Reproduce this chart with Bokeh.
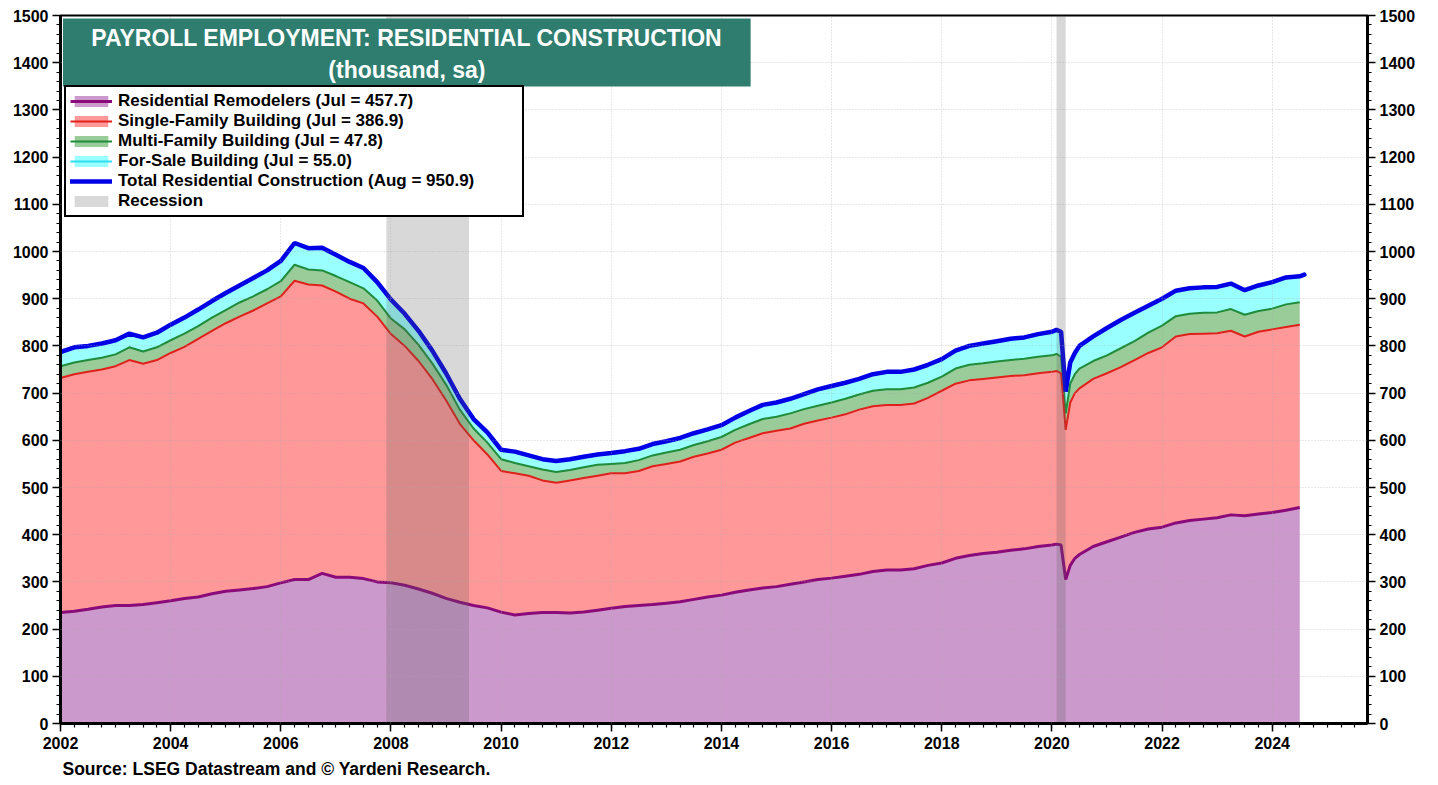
import numpy as np
from bokeh.plotting import figure
from bokeh.models import (Legend, LegendItem, LinearAxis, FixedTicker, BoxAnnotation,
                          Label, Title, Range1d, ColumnDataSource)
from bokeh.embed import file_html
from bokeh.resources import INLINE

# ---------------- data (thousand, sa) ----------------
dates = [
    "2002-01", "2002-04", "2002-07", "2002-10",
    "2003-01", "2003-04", "2003-07", "2003-10",
    "2004-01", "2004-04", "2004-07", "2004-10",
    "2005-01", "2005-04", "2005-07", "2005-10",
    "2006-01", "2006-04", "2006-07", "2006-10",
    "2007-01", "2007-04", "2007-07", "2007-10",
    "2008-01", "2008-04", "2008-07", "2008-10",
    "2009-01", "2009-04", "2009-07", "2009-10",
    "2010-01", "2010-04", "2010-07", "2010-10",
    "2011-01", "2011-04", "2011-07", "2011-10",
    "2012-01", "2012-04", "2012-07", "2012-10",
    "2013-01", "2013-04", "2013-07", "2013-10",
    "2014-01", "2014-04", "2014-07", "2014-10",
    "2015-01", "2015-04", "2015-07", "2015-10",
    "2016-01", "2016-04", "2016-07", "2016-10",
    "2017-01", "2017-04", "2017-07", "2017-10",
    "2018-01", "2018-04", "2018-07", "2018-10",
    "2019-01", "2019-04", "2019-07", "2019-10",
    "2020-01", "2020-02", "2020-03", "2020-04", "2020-05", "2020-06", "2020-07", "2020-10",
    "2021-01", "2021-04", "2021-07", "2021-10",
    "2022-01", "2022-04", "2022-07", "2022-10",
    "2023-01", "2023-04", "2023-07", "2023-10",
    "2024-01", "2024-04", "2024-07",
]

remodelers = [
    235, 238, 242, 247,
    250, 250, 252, 256,
    260, 265, 268, 275,
    280, 283, 286, 290,
    298, 305, 305, 318,
    310, 310, 307, 300,
    298, 293, 285, 276,
    265, 257, 250, 245,
    236, 230, 233, 235,
    235, 234, 236, 240,
    244, 248, 250, 252,
    255, 258, 263, 268,
    272, 278, 283, 287,
    290, 295, 300, 305,
    308, 312, 316, 322,
    325, 325, 328, 335,
    340, 350, 356, 360,
    363, 367, 370, 375,
    378, 380, 378, 305, 335, 350, 358, 375,
    385, 395, 405, 412,
    416, 425, 430, 433,
    436, 442, 440, 444,
    447, 452, 457.7,
]

single_family = [
    497, 502, 503, 503,
    507, 520, 510, 514,
    525, 533, 547, 557,
    568, 579, 589, 600,
    607, 633, 625, 610,
    605, 590, 583, 562,
    527, 507, 483, 454,
    420, 378, 350, 325,
    299, 300, 292, 280,
    275, 281, 284, 285,
    286, 282, 285, 293,
    295, 297, 302, 304,
    308, 317, 322, 328,
    330, 330, 335, 337,
    340, 343, 349, 350,
    350, 350, 350, 355,
    365, 370, 371, 370,
    370, 369, 368, 367,
    367, 367, 364, 317, 345, 350, 352, 355,
    357, 360, 365, 373,
    381, 395, 395, 393,
    391, 390, 380, 386,
    388, 388, 386.9,
]

multi_family = [
    25, 25, 25, 25,
    25, 27, 26, 27,
    27, 28, 27, 28,
    28, 30, 30, 30,
    32, 34, 32, 32,
    33, 35, 32, 34,
    33, 35, 34, 33,
    33, 30, 25, 25,
    25, 22, 20, 23,
    23, 22, 23, 23,
    20, 22, 23, 23,
    24, 25, 25, 26,
    27, 27, 29, 30,
    30, 32, 31, 31,
    32, 33, 32, 33,
    33, 33, 34, 32,
    30, 32, 33, 33,
    34, 34, 35, 35,
    35, 36, 35, 35, 40, 40, 42, 38,
    38, 40, 40, 43,
    46, 43, 43, 44,
    44, 46, 46, 44,
    44, 48, 47.8,
]

for_sale = [
    30, 32, 30, 30,
    30, 29, 30, 31,
    33, 34, 35, 35,
    36, 36, 39, 40,
    43, 46, 45, 48,
    45, 43, 43, 39,
    40, 33, 30, 27,
    24, 23, 20, 22,
    20, 24, 23, 22,
    23, 23, 22, 22,
    23, 25, 24, 24,
    24, 25, 25, 25,
    25, 26, 28, 30,
    30, 31, 32, 35,
    35, 34, 33, 35,
    37, 37, 38, 38,
    37, 38, 40, 42,
    43, 45, 45, 48,
    50, 51, 53, 46, 45, 45, 48, 52,
    58, 60, 60, 57,
    57, 54, 54, 54,
    54, 54, 52, 54,
    56, 57, 55.0,
]

total_dates = dates + ["2024-08"]
total = [
    787, 797, 800, 805,
    812, 826, 818, 828,
    845, 860, 877, 895,
    912, 928, 944, 960,
    980, 1018, 1007, 1008,
    993, 978, 965, 935,
    898, 868, 832, 790,
    742, 688, 645, 617,
    580, 576, 568, 560,
    556, 560, 565, 570,
    573, 577, 582, 592,
    598, 605, 615, 623,
    632, 648, 662, 675,
    680, 688, 698, 708,
    715, 722, 730, 740,
    745, 745, 750, 760,
    772, 790, 800, 805,
    810, 815, 818, 825,
    830, 834, 830, 703, 765, 785, 800, 820,
    838, 855, 870, 885,
    900, 917, 922, 924,
    925, 932, 918, 928,
    935, 945, 947.4, 950.9,
]

recession_start = ["2007-12", "2020-02"]
recession_end = ["2009-06", "2020-04"]

year_ticks = list(range(2002, 2025, 2))
y_ticks = list(range(0, 1501, 100))

legend_labels = [
    "Residential Remodelers (Jul = 457.7)",
    "Single-Family Building (Jul = 386.9)",
    "Multi-Family Building (Jul = 47.8)",
    "For-Sale Building (Jul = 55.0)",
    "Total Residential Construction (Aug = 950.9)",
    "Recession",
]
title_lines = ["PAYROLL EMPLOYMENT: RESIDENTIAL CONSTRUCTION", "(thousand, sa)"]
source_text = "Source: LSEG Datastream and \u00a9 Yardeni Research."


def dec_year(s):
    y, m = s.split("-")
    return int(y) + (int(m) - 1) / 12.0


FONT = "Liberation Sans"

x = np.array([dec_year(d) for d in dates])
l1 = np.array(remodelers, dtype=float)
l2 = l1 + np.array(single_family, dtype=float)
l3 = l2 + np.array(multi_family, dtype=float)
l4 = l3 + np.array(for_sale, dtype=float)

src = ColumnDataSource(dict(x=x, z=np.zeros_like(x), l1=l1, l2=l2, l3=l3, l4=l4))
tsrc = ColumnDataSource(dict(x=[dec_year(d) for d in total_dates], y=total))

p = figure(width=1436, height=783, title=None,
           x_range=Range1d(2002, 2025.73), y_range=Range1d(0, 1500),
           output_backend="svg", toolbar_location=None,
           min_border_left=60, min_border_right=69, min_border_top=15, min_border_bottom=60)

# areas
a1 = p.varea(x="x", y1="z", y2="l1", source=src, fill_color="#CC99CC")
a2 = p.varea(x="x", y1="l1", y2="l2", source=src, fill_color="#FF9999")
a3 = p.varea(x="x", y1="l2", y2="l3", source=src, fill_color="#99CC99")
a4 = p.varea(x="x", y1="l3", y2="l4", source=src, fill_color="#99FFFF")

ln4 = p.line("x", "l4", source=src, line_color="#33DDEE", line_width=2)
ln3 = p.line("x", "l3", source=src, line_color="#1E8C3A", line_width=2)
ln2 = p.line("x", "l2", source=src, line_color="#E0201B", line_width=2)
ln1 = p.line("x", "l1", source=src, line_color="#8B0A7A", line_width=3)
lt = p.line("x", "y", source=tsrc, line_color="#0000E6", line_width=4.5, line_cap="round")

rec = p.quad(left=[dec_year(d) for d in recession_start],
             right=[dec_year(d) for d in recession_end],
             bottom=p.y_range.start, top=p.y_range.end,
             fill_color="#5A5A5A", fill_alpha=0.24, line_color=None)

# grid
p.xgrid.ticker = FixedTicker(ticks=year_ticks)
p.ygrid.ticker = FixedTicker(ticks=y_ticks)
for g in (p.xgrid, p.ygrid):
    g.grid_line_color = "#AAAAAA"
    g.grid_line_alpha = 0.55
    g.grid_line_dash = "1 2"
    g.level = "guide"

minor_x = [2002 + q / 4 for q in range(0, 96)]
minor_y = list(range(0, 1501, 20))


def style_axis(ax):
    ax.axis_line_color = "black"
    ax.axis_line_width = 3
    ax.major_tick_line_color = "black"
    ax.minor_tick_line_color = "black"
    ax.major_tick_line_width = 1.5
    ax.minor_tick_line_width = 1.2
    ax.major_tick_in = 0
    ax.minor_tick_in = 0
    ax.major_tick_out = 8
    ax.minor_tick_out = 4
    ax.major_label_text_font = FONT
    ax.major_label_text_font_style = "bold"
    ax.major_label_text_font_size = "16px"
    ax.major_label_text_color = "black"
    ax.major_label_standoff = 4


xa = p.xaxis[0]
xa.ticker = FixedTicker(ticks=year_ticks, minor_ticks=minor_x)
style_axis(xa)
xa.major_label_standoff = 5

ya = p.yaxis[0]
ya.ticker = FixedTicker(ticks=y_ticks, minor_ticks=minor_y)
style_axis(ya)

yr = LinearAxis(ticker=FixedTicker(ticks=y_ticks, minor_ticks=minor_y))
style_axis(yr)
p.add_layout(yr, "right")

p.outline_line_color = "black"
p.outline_line_width = 2
p.outline_line_alpha = 1

# title box
p.add_layout(BoxAnnotation(left=2002.045, right=2014.53, bottom=1349.6, top=1493.6,
                           fill_color="#2E7D6F", fill_alpha=1, line_color=None))
for txt, yy in zip(title_lines, [1453, 1385]):
    p.add_layout(Label(x=2008.29, y=yy, text=txt, text_align="center", text_baseline="middle",
                       text_color="white", text_font=FONT, text_font_style="bold",
                       text_font_size="23px"))

# legend
items = [
    LegendItem(label=legend_labels[0], renderers=[a1, ln1]),
    LegendItem(label=legend_labels[1], renderers=[a2, ln2]),
    LegendItem(label=legend_labels[2], renderers=[a3, ln3]),
    LegendItem(label=legend_labels[3], renderers=[a4, ln4]),
    LegendItem(label=legend_labels[4], renderers=[lt]),
    LegendItem(label=legend_labels[5], renderers=[rec]),
]
legend = Legend(items=items, location=(4, 506), orientation="vertical",
                label_text_font=FONT, label_text_font_style="bold", label_text_font_size="17px",
                label_text_color="black", label_height=20, glyph_height=14, glyph_width=42,
                label_width=400, spacing=0, padding=4, margin=0, label_standoff=6,
                border_line_color="black", border_line_width=2, border_line_alpha=1,
                background_fill_color="white", background_fill_alpha=1)
p.add_layout(legend)

p.add_layout(Title(text=source_text, align="left", offset=2, text_font=FONT,
                   text_font_style="bold", text_font_size="17.5px", text_color="black"), "below")

open("out.html", "w").write(file_html(p, INLINE))
